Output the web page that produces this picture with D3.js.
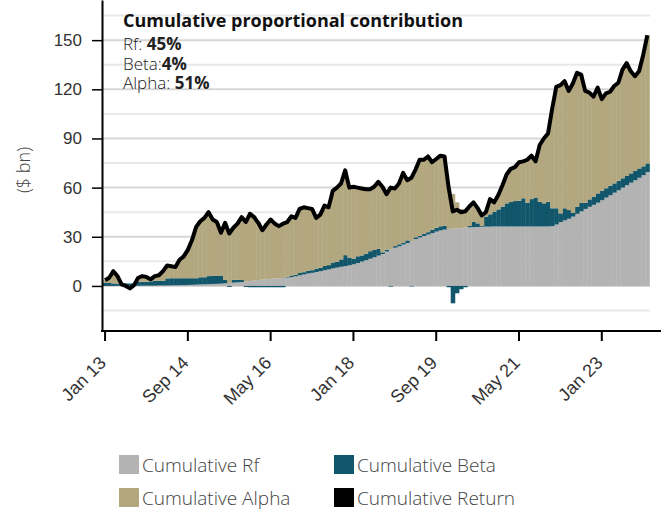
<!DOCTYPE html>
<html>
<head>
<meta charset="utf-8">
<script src="https://cdn.jsdelivr.net/npm/d3@7"></script>
<style>
  body { margin: 0; background: #fff; }
  svg { display: block; font-family: "Open Sans", sans-serif; }
</style>
</head>
<body>
<script>
var W = 661, H = 511;
var plot = {left: 103, right: 649.4, top: 0, bottom: 331};

// monthly categories, Jan 2013 .. Dec 2023
var months = d3.timeMonth.range(new Date(2013, 0, 1), new Date(2024, 0, 1));
var fmtMonth = d3.timeFormat("%b %y");
var tickLabels = ["Jan 13", "Sep 14", "May 16", "Jan 18", "Sep 19", "May 21", "Jan 23"];
var yTicks = [0, 30, 60, 90, 120, 150];

// cumulative contributions, $ bn
var cumRf = [
  0, 0, 0, 0.1, 0.1, 0.1, 0.1, 0.1, 0.1, 0.2, 0.2, 0.2,
  0.2, 0.3, 0.3, 0.3, 0.4, 0.4, 0.5, 0.5, 0.6, 0.7, 0.8, 0.9,
  1.0, 1.1, 1.2, 1.3, 1.4, 1.6, 1.8, 2.0, 2.2, 2.4, 2.7, 3.0,
  3.3, 3.6, 3.9, 4.1, 4.3, 4.5, 4.7, 4.9, 5.1, 5.4, 5.9, 6.5,
  7.0, 7.6, 8.0, 8.5, 9.0, 9.6, 10.1, 10.7, 11.2, 11.7, 12.1, 12.6,
  13.2, 14.0, 14.9, 15.7, 16.6, 17.5, 18.5, 19.5, 21.0, 22.5, 23.3, 24.2,
  25.3, 26.2, 27.4, 28.6, 29.6, 30.5, 31.4, 32.3, 33.2, 33.9, 34.4, 34.8,
  35.0, 35.2, 35.4, 35.6, 35.8, 35.9, 36.0, 36.1, 36.2, 36.2, 36.3, 36.3,
  36.3, 36.3, 36.3, 36.3, 36.3, 36.3, 36.3, 36.3, 36.3, 36.3, 36.3, 36.3,
  36.5, 37.5, 39.0, 40.0, 41.0, 42.3, 44.0, 45.5, 47.0, 48.3, 49.5, 50.8,
  52.3, 53.9, 55.3, 56.9, 58.4, 60.0, 61.5, 63.0, 64.5, 66.0, 67.6, 69.5
];
var cumBeta = [
  2.0, 1.8, 1.5, 1.4, 1.4, 1.4, 1.4, 1.5, 2.4, 2.4, 2.4, 2.5,
  3.0, 2.9, 2.9, 4.3, 4.3, 4.3, 4.2, 4.2, 4.1, 4.0, 3.9, 4.4,
  4.3, 4.9, 4.9, 4.8, 4.7, 2.1, -0.6, 1.7, 1.5, 1.2, -0.6, -0.8,
  -0.8, -0.8, -0.8, -0.8, -0.8, -0.8, -0.8, -0.8, 0.5, 1.0, 1.0, 1.4,
  1.4, 1.6, 1.6, 2.1, 2.1, 2.6, 2.6, 3.6, 3.6, 4.5, 6.7, 4.7,
  3.5, 4.1, 3.7, 4.0, 4.6, 4.5, 4.1, 1.0, 1.1, -0.4, 1.0, 1.2,
  1.2, 1.6, -0.3, 1.1, 1.0, 1.4, 1.4, 1.9, 2.3, 2.5, 2.4, -0.8,
  -10.6, -4.5, -2.0, -0.8, 0.8, 3.3, 2.2, 0.5, 6.1, 7.5, 9.0, 10.4,
  12.1, 14.1, 14.9, 15.5, 15.7, 17.2, 14.5, 16.7, 17.7, 15.1, 14.1, 15.1,
  10.9, 9.9, 5.3, 7.4, 5.3, 2.4, 4.4, 5.3, 3.8, 4.5, 5.0, 5.7,
  5.8, 5.7, 5.9, 5.7, 5.8, 5.7, 5.6, 5.7, 5.8, 5.7, 5.4, 5.3
];
var cumAlpha = [
  1.5, 3.2, 7.5, 4.5, 0, 0, 0, 0, 2.5, 3.4, 2.9, 1.3,
  2.8, 3.3, 5.8, 7.9, 7.3, 6.8, 11.3, 13.3, 17.3, 23.3, 31.3, 34.2,
  36.2, 39.0, 34.4, 32.9, 26.4, 34.8, 30.8, 31.8, 34.3, 38.4, 36.9, 41.8,
  39.5, 35.7, 30.9, 34.2, 37.0, 34.3, 32.6, 33.9, 33.4, 36.1, 34.6, 39.1,
  39.6, 38.3, 37.4, 30.9, 32.4, 36.8, 35.3, 43.7, 45.2, 46.3, 51.7, 42.7,
  43.8, 41.9, 40.9, 39.3, 37.8, 38.5, 40.9, 40.0, 33.9, 37.9, 35.2, 37.1,
  42.5, 36.7, 38.9, 41.3, 46.4, 45.1, 46.2, 41.3, 42.0, 43.1, 42.2, 26.0,
  21.1, 15.8, 11.6, 10.7, 11.9, 11.8, 9.3, 6.4, 2.7, 9.3, 5.7, 8.8,
  13.1, 17.6, 20.3, 20.7, 23.5, 22.5, 26.2, 26.5, 22.0, 34.6, 39.6, 41.6,
  60.6, 74.1, 78.2, 77.6, 72.7, 78.8, 81.6, 78.2, 68.2, 65.2, 61.0, 64.5,
  55.9, 57.9, 57.3, 59.4, 59.8, 66.3, 68.9, 62.3, 57.7, 59.3, 68.0, 78.2
];
var cumReturn = [
  3.5, 5, 9, 6, 1, 0, -1.5, 0.5, 5, 6, 5.5, 4,
  6, 6.5, 9, 12.5, 12, 11.5, 16, 18, 22, 28, 36, 39.5,
  41.5, 45, 40.5, 39, 32.5, 38.5, 32, 35.5, 38, 42, 39, 44,
  42, 38.5, 34, 37.5, 40.5, 38, 36.5, 38, 39, 42.5, 41.5, 47,
  48, 47.5, 47, 41.5, 43.5, 49, 48, 58, 60, 62.5, 70.5, 60,
  60.5, 60, 59.5, 59, 59, 60.5, 63.5, 60.5, 56, 60, 59.5, 62.5,
  69, 64.5, 66, 71, 77, 77, 79, 75.5, 77.5, 79.5, 79, 60,
  45.5, 46.5, 45, 45.5, 48.5, 51, 47.5, 43, 45, 53, 51, 55.5,
  61.5, 68, 71.5, 72.5, 75.5, 76, 77, 79.5, 76, 86, 90, 93,
  108, 121.5, 122.5, 125, 119, 123.5, 130, 129, 119, 118, 115.5, 121,
  114, 117.5, 118.5, 122, 124, 132, 136, 131, 128, 131, 141, 153
];

var shareLabels = ["Rf: ", "Beta:", "Alpha: "];
var shareValues = ["45%", "4%", "51%"];

var seriesKeys = ["rf", "beta", "alpha"];
var legendSet = {
  "Cumulative Rf": "#b3b3b3",
  "Cumulative Beta": "#12566b",
  "Cumulative Alpha": "#b2a77f",
  "Cumulative Return": "#000000"
};
var colors = {rf: "#b3b3b3", beta: "#12566b", alpha: "#b2a77f"};

var data = months.map(function (m, i) {
  return {month: fmtMonth(m), rf: cumRf[i], beta: cumBeta[i], alpha: cumAlpha[i], ret: cumReturn[i]};
});

var svg = d3.select("body").append("svg")
  .attr("width", W)
  .attr("height", H);

var x = d3.scaleBand()
  .domain(data.map(function (d) { return d.month; }))
  .range([plot.left, plot.right])
  .padding(0);

var y = d3.scaleLinear()
  .domain([-27.5, 174.5])
  .range([plot.bottom, plot.top]);

// gridlines every 15
var grid = svg.append("g").attr("class", "grid");
grid.selectAll("line")
  .data(d3.range(-15, 166, 15))
  .enter().append("line")
  .attr("x1", plot.left)
  .attr("x2", 650)
  .attr("y1", function (d) { return y(d); })
  .attr("y2", function (d) { return y(d); })
  .style("stroke", function (d) { return d % 30 === 0 ? "#d6d6d6" : "#e8e8e8"; })
  .style("stroke-width", 2);

// stacked bars (negatives go below zero)
var stacked = d3.stack()
  .keys(seriesKeys)
  .offset(d3.stackOffsetDiverging)(data);

svg.append("g").selectAll("g")
  .data(stacked)
  .enter().append("g")
  .style("fill", function (s) { return colors[s.key]; })
  .selectAll("rect")
  .data(function (s) { return s; })
  .enter().append("rect")
  .attr("x", function (d) { return x(d.data.month); })
  .attr("width", x.bandwidth() + 0.4)
  .attr("y", function (d) { return y(Math.max(d[0], d[1])); })
  .attr("height", function (d) { return Math.abs(y(d[0]) - y(d[1])); });

// cumulative return line
var line = d3.line()
  .x(function (d) { return x(d.month) + x.bandwidth() / 2; })
  .y(function (d) { return y(d.ret); });

svg.append("path")
  .datum(data)
  .attr("d", line)
  .style("fill", "none")
  .style("stroke", "#000")
  .style("stroke-width", 4)
  .style("stroke-linejoin", "round");

// axes
var yAxis = svg.append("g")
  .attr("transform", "translate(102,0)")
  .call(d3.axisLeft(y).tickValues(yTicks).tickSize(10).tickSizeOuter(0).tickPadding(10));
yAxis.select(".domain").style("stroke", "#000").style("stroke-width", 2);
yAxis.selectAll(".tick line").style("stroke", "#000").style("stroke-width", 1.5);
yAxis.selectAll(".tick text")
  .style("font-size", "17px")
  .style("font-weight", 300)
  .style("fill", "#333");

var xAxis = svg.append("g")
  .attr("transform", "translate(0," + plot.bottom + ")")
  .call(d3.axisBottom(x).tickValues(tickLabels).tickSize(10).tickSizeOuter(0));
xAxis.select(".domain").remove();
xAxis.selectAll(".tick line").style("stroke", "#000").style("stroke-width", 2);
xAxis.selectAll(".tick text")
  .attr("y", 0)
  .attr("dy", 0)
  .attr("transform", "translate(2,33) rotate(-45)")
  .style("text-anchor", "end")
  .style("font-size", "18px")
  .style("font-weight", 300)
  .style("fill", "#333");
xAxis.append("line")
  .attr("x1", 101).attr("x2", W)
  .attr("y1", 0).attr("y2", 0)
  .style("stroke", "#000")
  .style("stroke-width", 2);

// y axis title
svg.append("text")
  .attr("text-anchor", "middle")
  .attr("transform", "translate(30,170) rotate(-90)")
  .style("font-size", "18px")
  .style("font-weight", 300)
  .style("fill", "#444")
  .text("($ bn)");

// contribution box
svg.append("text")
  .attr("x", 123)
  .attr("y", 27)
  .style("font-size", "18px")
  .style("font-weight", 700)
  .style("fill", "#111")
  .text("Cumulative proportional contribution");

var shareY = [50, 70, 89];
shareLabels.forEach(function (lab, i) {
  var t = svg.append("text")
    .attr("x", 123)
    .attr("y", shareY[i])
    .style("font-size", "17px")
    .style("fill", "#222");
  t.append("tspan").style("font-weight", 300).text(lab);
  t.append("tspan").style("font-weight", 700).text(shareValues[i]);
});

// legend, 2 x 2
var legend = svg.append("g").attr("class", "legend");
Object.keys(legendSet).forEach(function (key, i) {
  var lx = i % 2 === 0 ? 119 : 334;
  var ly = i < 2 ? 455 : 488;
  legend.append("rect")
    .attr("x", lx)
    .attr("y", ly)
    .attr("width", 20)
    .attr("height", 19)
    .style("fill", legendSet[key]);
  legend.append("text")
    .attr("x", lx + 23)
    .attr("y", ly + 17)
    .style("font-size", "19px")
    .style("font-weight", 300)
    .style("fill", "#444")
    .text(key);
});
</script>
</body>
</html>
